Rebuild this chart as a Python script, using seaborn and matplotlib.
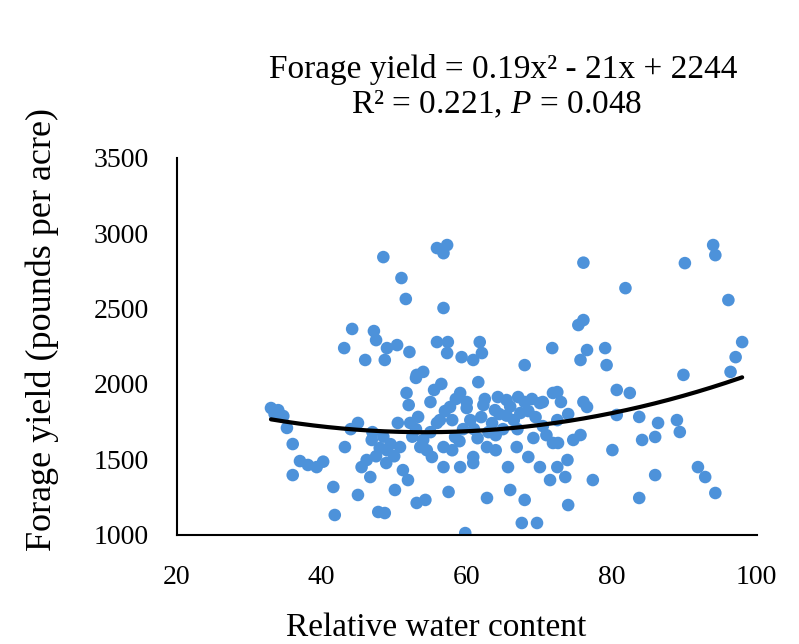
import numpy as np
import pandas as pd
import matplotlib
matplotlib.use("Agg")
import matplotlib.pyplot as plt
import seaborn as sns

# Relative water content (x) and forage yield (y)
rwc = [33.0, 34.0, 34.7, 33.5, 35.2, 36.0, 37.0, 36.0, 38.1, 39.3, 40.2,
       41.6, 41.8, 43.2, 45.0, 45.0, 45.5, 46.2, 46.7, 46.9, 47.8, 48.7, 48.0, 48.9,
       50.1, 50.5, 50.8, 51.2, 51.7, 52.2, 51.9, 53.1, 53.3, 53.6, 54.3, 55.0, 54.0,
       55.9, 55.2,
       48.5, 51.0, 51.6, 55.9, 57.3, 56.8, 56.8,
       44.2, 43.1, 47.2, 47.5, 50.4, 52.1, 49.0, 46.0, 48.7, 53.1, 54.0, 55.9, 57.4,
       57.3, 59.3, 60.9, 61.8, 62.1, 68.0, 71.8, 61.6, 59.1, 57.7, 56.3, 56.8, 56.8,
       57.5, 58.4, 59.1, 59.8, 60.5, 60.9, 60.9, 62.3, 62.8, 62.8, 63.9, 64.3, 65.5,
       65.7, 66.0, 66.9, 67.1, 67.4, 68.0, 67.6, 69.7, 68.5, 69.2, 70.1, 70.1, 71.5,
       71.9, 71.9,
       76.1, 76.1, 75.4, 76.6, 75.7, 72.5, 70.5, 76.1, 76.6, 75.7, 74.7, 72.6, 72.5,
       73.6, 74.0, 77.4, 81.9, 90.1, 94.0, 94.3, 96.1, 98.0, 97.1, 96.4, 89.9, 79.1,
       79.3, 80.7, 82.5, 80.7, 83.8, 86.4, 89.0, 89.4, 84.2, 86.0, 80.1, 86.0, 83.8,
       91.9, 92.9, 94.3, 73.9,
       47.0, 48.5, 49.5, 50.0, 47.5, 52.5, 53.0, 55.0, 54.5, 58.0, 59.5, 61.0, 62.0,
       63.5, 64.5, 65.0, 66.0, 66.5, 68.5, 69.0, 70.5, 72.5, 74.0, 73.0, 63.0, 61.5,
       58.0, 64.0, 60.0, 58.5, 55.5, 52.0, 56.5, 53.0,
       57.0, 59.0, 60.0, 62.5, 64.0, 65.5, 67.0, 68.0, 69.5, 71.0, 44.0, 49.0]
forage_yield = [1840, 1826, 1787, 1800, 1708, 1601, 1488, 1395, 1462, 1448, 1484,
                1316, 1130, 1581, 1741, 1263, 1448, 1495, 1382, 1628, 1150, 1143, 1575, 1475,
                1296, 1741, 1581, 1428, 1940, 1741, 1362, 1210, 1781, 1581, 1230, 1880, 1628,
                1741, 1515,
                2842, 2703, 2564, 2902, 2922, 2868, 2504,
                2365, 2238, 2351, 2291, 2258, 2212, 2238, 2159, 2159, 2060, 2080, 2278, 2278,
                2205, 2178, 2159, 2278, 2205, 2125, 2238, 2012, 1940, 1847, 1760, 1581, 1448,
                1283, 1648, 1448, 1010, 1760, 1515, 1475, 1860, 1581, 1243, 1826, 1913, 1893,
                1448, 1296, 1581, 1913, 1807, 1230, 1077, 1077, 1515, 1641, 1873, 1448, 1362,
                1940, 1608,
                2805, 2424, 2391, 2225, 2159, 1946, 1880, 1880, 1847, 1661, 1628, 1608, 1448,
                1382, 1196, 1362, 2636, 2802, 2922, 2855, 2557, 2278, 2178, 2080, 2060, 2238,
                2125, 1960, 1940, 1794, 1781, 1741, 1760, 1681, 1628, 1648, 1561, 1395, 1243,
                1448, 1382, 1276, 1495,
                1680, 1650, 1600, 1520, 1520, 1650, 1700, 1680, 1560, 1760, 1700, 1700, 1780,
                1740, 1800, 1700, 1850, 1760, 1820, 1900, 1720, 1760, 1800, 1880, 1680, 1640,
                1560, 1560, 1880, 1900, 1960, 1860, 2000, 2040,
                1820, 1620, 1840, 1900, 1660, 1790, 1700, 1880, 1780, 1660, 1700, 1560]

# Quadratic trend line coefficients (a*x^2 + b*x + c) and fitted range
coef_a, coef_b, coef_c = 0.19, -20.6, 2238
fit_range = [33.0, 98.0]

x_ticks = [20, 40, 60, 80, 100]
y_ticks = [1000, 1500, 2000, 2500, 3000, 3500]

sns.set_style("white")
plt.rcParams["font.family"] = ["Liberation Serif", "DejaVu Serif"]
plt.rcParams["text.color"] = "black"
plt.rcParams["mathtext.fontset"] = "custom"
plt.rcParams["mathtext.rm"] = "Liberation Serif"
plt.rcParams["mathtext.it"] = "Liberation Serif:italic"

df = pd.DataFrame({"rwc": rwc, "yield": forage_yield})

fig = plt.figure(figsize=(7.99, 6.44), dpi=100)
ax = fig.add_axes([0.2212, 0.1699, 0.7258, 0.5848])

sns.scatterplot(data=df, x="rwc", y="yield", ax=ax, color="#4D92DA",
                s=82, edgecolor="none", linewidth=0, zorder=2)

xs = np.linspace(fit_range[0], fit_range[1], 200)
fit_df = pd.DataFrame({"x": xs, "y": coef_a * xs**2 + coef_b * xs + coef_c})
sns.lineplot(data=fit_df, x="x", y="y", ax=ax, color="black", linewidth=3, zorder=3)

ax.set_xlim(20, 100)
ax.set_ylim(1000, 3500)
ax.set_xticks(x_ticks)
ax.set_yticks(y_ticks)
ax.set_xticklabels([str(t) for t in x_ticks])
ax.set_yticklabels([str(t) for t in y_ticks])
ax.tick_params(axis="both", which="major", direction="out", length=9, width=1.5,
               labelsize=20, color="black", labelcolor="black")
ax.tick_params(axis="y", pad=11)
ax.tick_params(axis="x", pad=13)
for side in ["top", "right"]:
    ax.spines[side].set_visible(False)
for side in ["left", "bottom"]:
    ax.spines[side].set_color("black")
    ax.spines[side].set_linewidth(1.5)
ax.set_xlabel("")
ax.set_ylabel("")

fig.text(0.546, 0.026, "Relative water content", ha="center", va="center", fontsize=24)
fig.text(0.0526, 0.4876, "Forage yield (pounds per acre)", ha="center", va="center",
         rotation=90, fontsize=26)
fig.text(0.63, 0.892, "Forage yield = 0.19x² - 21x + 2244", ha="center", va="center",
         fontsize=24)
fig.text(0.622, 0.838, "R² = 0.221, $P$ = 0.048", ha="center", va="center", fontsize=24)

fig.savefig("out.png", dpi=100, facecolor="white")
